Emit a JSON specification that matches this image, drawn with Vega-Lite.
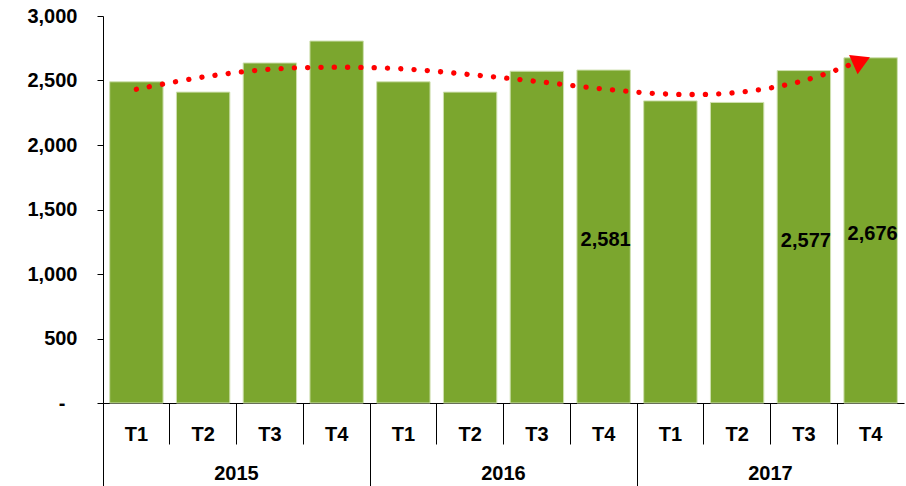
{
  "$schema": "https://vega.github.io/schema/vega-lite/v6.json",
  "width": 801,
  "height": 387,
  "autosize": {"type": "none"},
  "padding": {"left": 103, "top": 16, "right": 2, "bottom": 83},
  "background": "white",
  "config": {
    "view": {"stroke": null},
    "font": "Liberation Sans",
    "axis": {
      "labelFont": "Liberation Sans",
      "labelFontWeight": "bold",
      "labelFontSize": 20,
      "labelColor": "black",
      "domainColor": "black",
      "tickColor": "black",
      "domainWidth": 1,
      "tickWidth": 1,
      "grid": false
    }
  },
  "datasets": {
    "bars": [
      {"period": "2015-T1", "value": 2490},
      {"period": "2015-T2", "value": 2410},
      {"period": "2015-T3", "value": 2636},
      {"period": "2015-T4", "value": 2806},
      {"period": "2016-T1", "value": 2490},
      {"period": "2016-T2", "value": 2410},
      {"period": "2016-T3", "value": 2572},
      {"period": "2016-T4", "value": 2581},
      {"period": "2017-T1", "value": 2342},
      {"period": "2017-T2", "value": 2330},
      {"period": "2017-T3", "value": 2577},
      {"period": "2017-T4", "value": 2676}
    ],
    "trend": [
      {"period": "2015-T1", "value": 2432},
      {"period": "2015-T2", "value": 2527},
      {"period": "2015-T3", "value": 2587},
      {"period": "2015-T4", "value": 2603},
      {"period": "2016-T1", "value": 2590},
      {"period": "2016-T2", "value": 2546},
      {"period": "2016-T3", "value": 2493},
      {"period": "2016-T4", "value": 2434},
      {"period": "2017-T1", "value": 2394},
      {"period": "2017-T2", "value": 2407},
      {"period": "2017-T3", "value": 2499},
      {"period": "2017-T4", "value": 2683}
    ],
    "labels": [
      {"period": "2016-T4", "value": 2581},
      {"period": "2017-T3", "value": 2577},
      {"period": "2017-T4", "value": 2676}
    ]
  },
  "resolve": {"axis": {"x": "independent", "y": "independent"}, "scale": {"y": "independent"}},
  "layer": [
    {
      "data": {"name": "bars"},
      "mark": {"type": "bar", "width": {"band": 0.8}, "color": "#7BA62E", "stroke": "#cfe0b0", "strokeWidth": 1},
      "encoding": {
        "x": {
          "field": "period", "type": "nominal", "sort": null, "title": null,
          "scale": {"paddingInner": 0, "paddingOuter": 0},
          "axis": {
            "orient": "bottom",
            "labelExpr": "substring(datum.value, 5)",
            "labelAngle": 0,
            "bandPosition": 0,
            "tickSize": 41,
            "labelPadding": -20,
            "labelOverlap": false
          }
        },
        "y": {
          "field": "value", "type": "quantitative", "title": null,
          "scale": {"domain": [0, 3000], "nice": false},
          "axis": {
            "orient": "left",
            "values": [0, 500, 1000, 1500, 2000, 2500, 3000],
            "labelExpr": "datum.value == 0 ? '-' : format(datum.value, ',')",
            "tickSize": 6,
            "labelPadding": {"condition": {"test": "datum.value == 0", "value": 32}, "value": 20}
          }
        }
      }
    },
    {
      "data": {"name": "trend"},
      "mark": {"type": "line", "color": "#FF0000", "strokeWidth": 5.3, "strokeDash": [0.1, 13.2], "strokeCap": "round", "interpolate": "catmull-rom"},
      "encoding": {
        "x": {
          "field": "period", "type": "nominal", "sort": null, "title": null,
          "axis": {
            "orient": "bottom",
            "domain": false,
            "labelExpr": "indexof(datum.value, 'T2') >= 0 ? substring(datum.value, 0, 4) : ''",
            "labelAngle": 0,
            "labelOffset": 33.375,
            "bandPosition": 0,
            "tickSize": 83,
            "labelPadding": -23,
            "labelOverlap": false,
            "tickOpacity": {"condition": {"test": "indexof(datum.value, 'T1') >= 0", "value": 1}, "value": 0}
          }
        },
        "y": {"field": "value", "type": "quantitative", "title": null, "scale": {"domain": [0, 3000], "nice": false}, "axis": null}
      }
    },
    {
      "data": {"name": "trend"},
      "transform": [{"filter": "datum.period == '2017-T4'"}],
      "mark": {"type": "point", "shape": "triangle-up", "filled": true, "color": "#FF0000", "opacity": 1, "size": 441, "angle": 66, "xOffset": -9, "yOffset": 4},
      "encoding": {
        "x": {"field": "period", "type": "nominal", "sort": null, "title": null, "axis": null},
        "y": {"field": "value", "type": "quantitative", "title": null, "scale": {"domain": [0, 3000], "nice": false}, "axis": null}
      }
    },
    {
      "data": {"name": "labels"},
      "mark": {"type": "text", "font": "Liberation Sans", "fontWeight": "bold", "fontSize": 20, "color": "black", "baseline": "middle", "align": "center", "dx": 2},
      "encoding": {
        "x": {"field": "period", "type": "nominal", "sort": null, "title": null, "axis": null},
        "y": {"field": "value", "type": "quantitative", "title": null, "scale": {"domain": [0, 6143], "nice": false, "zero": true}, "axis": null},
        "text": {"field": "value", "type": "quantitative", "format": ","}
      }
    }
  ]
}
